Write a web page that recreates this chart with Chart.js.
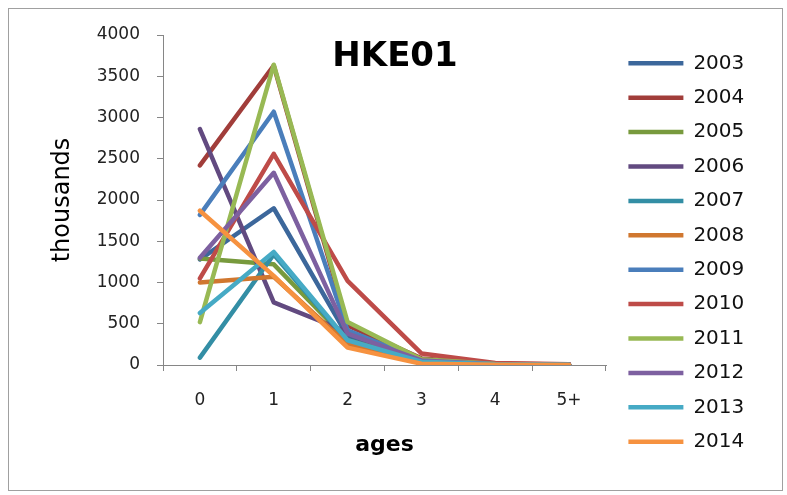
<!DOCTYPE html>
<html>
<head>
<meta charset="utf-8">
<title>HKE01</title>
<script src="https://cdn.jsdelivr.net/npm/chart.js@4"></script>
<style>
  html, body { margin: 0; padding: 0; background: #fff; }
  #frame {
    position: absolute; left: 8px; top: 8px;
    width: 773px; height: 481px;
    border: 1px solid #a0a0a0;
  }
</style>
</head>
<body>
<div id="frame"><canvas id="hke"></canvas></div>
<script>
// values in thousands, by age
const ages = ['0', '1', '2', '3', '4', '5+'];
const years = ['2003', '2004', '2005', '2006', '2007', '2008', '2009', '2010', '2011', '2012', '2013', '2014'];
const y2003 = [1280, 1900, 350, 50, 10, 5];
const y2004 = [2420, 3630, 480, 80, 15, 5];
const y2005 = [1290, 1220, 300, 45, 10, 3];
const y2006 = [2860, 760, 400, 40, 8, 3];
const y2007 = [90, 1340, 290, 40, 8, 3];
const y2008 = [1000, 1070, 250, 30, 6, 2];
const y2009 = [1820, 3070, 420, 60, 12, 4];
const y2010 = [1050, 2560, 1020, 140, 25, 8];
const y2011 = [520, 3640, 520, 70, 12, 4];
const y2012 = [1300, 2330, 380, 55, 10, 3];
const y2013 = [630, 1370, 300, 40, 8, 2];
const y2014 = [1870, 1080, 210, 15, 4, 1];
const yTicks = [0, 500, 1000, 1500, 2000, 2500, 3000, 3500, 4000];

const series = [y2003, y2004, y2005, y2006, y2007, y2008, y2009, y2010, y2011, y2012, y2013, y2014];
const colors = ['#3C679B', '#A13D3A', '#789A3D', '#624A80', '#338EA5', '#D0772F',
                '#4A7EBB', '#BE4B48', '#98B954', '#7D60A0', '#46AAC5', '#F69240'];

const fontFam = '"DejaVu Sans", sans-serif';
const axisGrey = '#868686';

// chart title sits inside the plot area, like the Excel original
const insideTitle = {
    id : 'insideTitle',
    afterDraw(chart) {
        const c = chart.ctx;
        c.save();
        c.font = 'bold 34px ' + fontFam;
        c.fillStyle = '#000000';
        c.textAlign = 'center';
        c.textBaseline = 'middle';
        c.fillText('HKE01', 386, 48);
        c.restore();
    }
};

// give the legend a fixed box width so it sits nearer the plot
const legendWidth = {
    id : 'legendWidth',
    afterInit(chart) {
        const lg = chart.legend;
        const fit = lg.fit;
        lg.fit = function () {
            fit.call(this);
            this.width = 168;
        };
    }
};

const ctx = document.getElementById('hke').getContext('2d');
const hkeChart = new Chart(ctx, {
    type : 'line',
    data : {
        labels : ages,
        datasets : series.map((vals, i) => ({
            label : years[i],
            data : vals,
            borderColor : colors[i],
            backgroundColor : colors[i],
            borderWidth : 4.5,
            borderCapStyle : 'round',
            borderJoinStyle : 'round',
            pointRadius : 0,
            pointHoverRadius : 0,
            tension : 0,
            order : series.length - i
        }))
    },
    options : {
        responsive : true,
        maintainAspectRatio : false,
        animation : false,
        layout : { padding : { top : 6, left : 0, right : 0, bottom : 0 } },
        scales : {
            x : {
                offset : true,
                grid : {
                    offset : true,
                    drawOnChartArea : false,
                    drawTicks : true,
                    tickLength : 6,
                    color : axisGrey
                },
                border : { color : axisGrey, width : 1 },
                ticks : {
                    color : '#222222',
                    padding : 19,
                    font : { family : fontFam, size : 17 }
                },
                title : {
                    display : true,
                    text : 'ages',
                    color : '#000000',
                    font : { family : fontFam, size : 22, weight : 'bold' },
                    padding : { top : 0, bottom : 32 }
                },
                afterFit(s) { s.height = 125; }
            },
            y : {
                min : 0,
                max : 4000,
                afterBuildTicks(s) { s.ticks = yTicks.map(v => ({ value : v })); },
                grid : {
                    drawOnChartArea : false,
                    drawTicks : true,
                    tickLength : 6,
                    color : axisGrey
                },
                border : { color : axisGrey, width : 1 },
                ticks : {
                    color : '#222222',
                    padding : 17,
                    font : { family : fontFam, size : 17 },
                    callback : v => String(v)
                },
                title : {
                    display : true,
                    text : 'thousands',
                    color : '#000000',
                    font : { family : fontFam, size : 24 },
                    padding : { top : 39, bottom : 0 }
                },
                afterFit(s) { s.width = 154; s.paddingTop = 26; }
            },
            // empty spacer between plot and legend
            gap : {
                position : 'right',
                display : true,
                grid : { display : false },
                border : { display : false },
                ticks : { display : false },
                afterFit(s) { s.width = 8; }
            }
        },
        plugins : {
            legend : {
                position : 'right',
                align : 'center',
                labels : {
                    usePointStyle : true,
                    pointStyle : 'line',
                    pointStyleWidth : 55,
                    color : '#111111',
                    padding : 14.4,
                    font : { family : fontFam, size : 20 },
                    sort : (a, b) => a.datasetIndex - b.datasetIndex
                }
            },
            tooltip : { enabled : false }
        }
    },
    plugins : [insideTitle, legendWidth]
});
</script>
</body>
</html>
